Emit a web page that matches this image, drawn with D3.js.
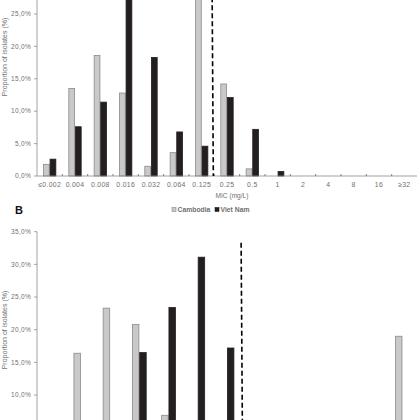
<!DOCTYPE html>
<html>
<head>
<meta charset="utf-8">
<script src="https://cdn.jsdelivr.net/npm/d3@7"></script>
<style>
  body { margin: 0; background: #fff; }
  svg { display: block; font-family: "Liberation Sans", Arial, sans-serif; }
</style>
</head>
<body>
<svg id="viz" width="420" height="420"></svg>
<script>
// === DATA ===
const series = ["Cambodia", "Viet Nam"];
const catsA = ["≤0.002", "0.004", "0.008", "0.016", "0.032", "0.064", "0.125", "0.25", "0.5", "1", "2", "4", "8", "16", "≥32"];
const cambodiaA = [1.8, 13.5, 18.6, 12.8, 1.5, 3.6, 31.0, 14.2, 1.1, 0, 0, 0, 0, 0, 0];
const vietnamA = [2.6, 7.6, 11.4, 31.0, 18.3, 6.8, 4.6, 12.1, 7.2, 0.7, 0, 0, 0, 0, 0];

// panel B: 13 MIC classes, labels are below the crop
const catsB = ["c1", "c2", "c3", "c4", "c5", "c6", "c7", "c8", "c9", "c10", "c11", "c12", "c13"];
const cambodiaB = [0, 16.4, 23.3, 20.8, 6.9, 0, 0, 0, 0, 0, 0, 0, 19.0];
const vietnamB = [0, 0, 0, 16.5, 23.4, 31.1, 17.2, 0, 0, 0, 0, 0, 0];

const yTicks = [0, 5, 10, 15, 20, 25, 30, 35];
const colors = { "Cambodia": "#c9c9c9", "Viet Nam": "#231f20" };
const strokes = { "Cambodia": "#8a8a8a", "Viet Nam": "#231f20" };
const textCol = "#707070";

const svg = d3.select("#viz");
const fmt = d => d3.format(".1f")(d).replace(".", ",") + "%";

function drawPanel(opt) {
  const g = svg.append("g");
  const x = d3.scaleBand()
    .domain(opt.cats)
    .range([37, 417])
    .paddingInner(opt.pad)
    .paddingOuter(opt.pad / 2);
  const x1 = d3.scaleBand().domain(series).range([0, x.bandwidth()]);
  const y = d3.scaleLinear().domain([0, 35]).range([opt.y0, opt.y35]);
  const shown = yTicks.filter(d => y(d) > 5 && y(d) < 415);

  // y axis
  g.append("line")
    .attr("x1", 37).attr("x2", 37)
    .attr("y1", y(0)).attr("y2", y(35))
    .attr("stroke", "#8c8c8c").attr("stroke-width", 0.8);
  g.selectAll(".ytick")
    .data(yTicks)
    .enter()
    .append("line")
    .attr("x1", 34).attr("x2", 37)
    .attr("y1", d => y(d)).attr("y2", d => y(d))
    .attr("stroke", "#8c8c8c").attr("stroke-width", 0.8);
  g.selectAll(".ylab")
    .data(shown)
    .enter()
    .append("text")
    .attr("x", 31)
    .attr("y", d => y(d))
    .attr("dy", "0.35em")
    .attr("text-anchor", "end")
    .attr("fill", textCol)
    .style("font-size", "6.5px")
    .style("letter-spacing", "0.3px")
    .text(fmt);

  g.append("text")
    .attr("transform", `translate(7,${opt.titleY}) rotate(-90)`)
    .attr("text-anchor", "middle")
    .attr("fill", textCol)
    .style("font-size", "7px")
    .text("Proportion of isolates (%)");

  // bars
  const rows = opt.cats.map((c, i) => ({ cat: c, vals: [opt.a[i], opt.b[i]] }));
  const grp = g.selectAll(".grp")
    .data(rows)
    .enter()
    .append("g")
    .attr("transform", d => `translate(${x(d.cat)},0)`);
  grp.selectAll("rect")
    .data(d => series.map((s, j) => ({ s, v: d.vals[j] })).filter(e => e.v > 0))
    .enter()
    .append("rect")
    .attr("x", d => x1(d.s) + 0.4)
    .attr("width", x1.bandwidth() - 0.8)
    .attr("y", d => y(d.v))
    .attr("height", d => y(0) - y(d.v))
    .attr("fill", d => colors[d.s])
    .attr("stroke", d => strokes[d.s])
    .attr("stroke-width", 0.8);

  // x axis
  g.append("line")
    .attr("x1", 37).attr("x2", 417)
    .attr("y1", y(0)).attr("y2", y(0))
    .attr("stroke", "#8c8c8c").attr("stroke-width", 0.8);
  g.selectAll(".xtick")
    .data(opt.cats.slice(1))
    .enter()
    .append("line")
    .attr("x1", d => x(d) - x.step() * opt.pad / 2)
    .attr("x2", d => x(d) - x.step() * opt.pad / 2)
    .attr("y1", y(0) - 2).attr("y2", y(0))
    .attr("stroke", "#666").attr("stroke-width", 0.8);
  if (opt.showLabels) {
    g.selectAll(".xlab")
      .data(opt.cats)
      .enter()
      .append("text")
      .attr("x", d => x(d) + x.bandwidth() / 2)
      .attr("y", y(0) + 11)
      .attr("text-anchor", "middle")
      .attr("fill", textCol)
      .style("font-size", "6.9px")
      .style("letter-spacing", "0.3px")
      .text(d => d);
    g.append("text")
      .attr("x", 232)
      .attr("y", y(0) + 21.5)
      .attr("text-anchor", "middle")
      .attr("fill", textCol)
      .style("font-size", "6.6px")
      .text("MIC (mg/L)");
  }

  // breakpoint
  const bx = x(opt.cats[opt.bp]) - x.step() * opt.pad / 2 + opt.bpShift;
  g.append("line")
    .attr("x1", bx).attr("x2", bx + 1.5)
    .attr("y1", y(opt.bpTop)).attr("y2", y(0))
    .attr("stroke", "#000")
    .attr("stroke-width", 1.6)
    .attr("stroke-dasharray", "5,3");
}

drawPanel({ cats: catsA, a: cambodiaA, b: vietnamA, pad: 0.48, y0: 176, y35: 176 - 35 * 6.48, titleY: 57, showLabels: true, bp: 7, bpTop: 35, bpShift: -2.5 });
drawPanel({ cats: catsB, a: cambodiaB, b: vietnamB, pad: 0.5, y0: 460.4, y35: 231.7, titleY: 330, showLabels: false, bp: 7, bpTop: 33.3, bpShift: -0.5 });

// panel label + legend
svg.append("text")
  .attr("x", 15).attr("y", 214)
  .style("font-size", "11px")
  .style("font-weight", "bold")
  .attr("fill", "#111")
  .text("B");

const leg = svg.append("g").attr("transform", "translate(172,212)");
const legX = [0, 43];
series.forEach((s, i) => {
  leg.append("rect")
    .attr("x", legX[i]).attr("y", -4.5)
    .attr("width", 4).attr("height", 4)
    .attr("fill", colors[s])
    .attr("stroke", strokes[s])
    .attr("stroke-width", 0.6);
  leg.append("text")
    .attr("x", legX[i] + 5.5).attr("y", 0)
    .attr("fill", textCol)
    .style("font-size", "6.8px")
    .style("font-weight", "bold")
    .text(s);
});
</script>
</body>
</html>
